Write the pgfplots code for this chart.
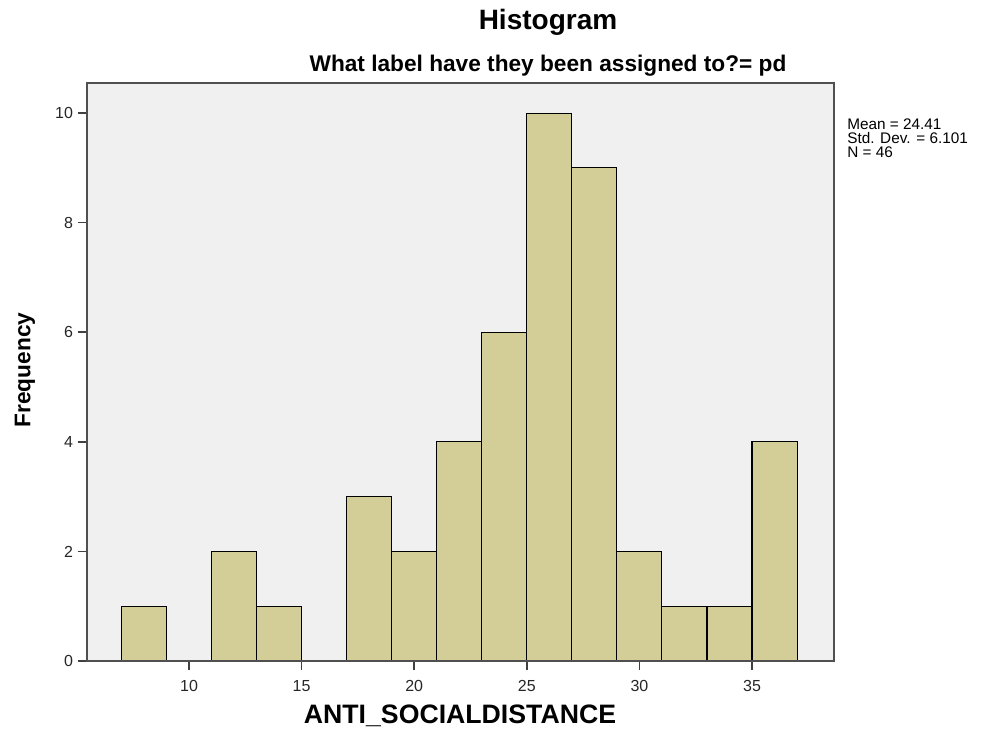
\documentclass[border=0pt]{standalone}
\usepackage{pgfplots}
\pgfplotsset{compat=1.18}
\usepackage{fontspec}
\setmainfont{Liberation Sans}

\definecolor{barfill}{RGB}{211,206,151}
\definecolor{plotbg}{RGB}{240,240,240}
\definecolor{axisgray}{RGB}{80,80,80}

\begin{document}
\begin{tikzpicture}
% canvas of the reference, 0.75pt per pixel
\path[use as bounding box] (-65.25pt,-52.5pt) rectangle (684.75pt,495.75pt);

\begin{axis}[
    at={(0,0)}, anchor=south west,
    scale only axis,
    width=560.25pt, height=433.5pt,
    xmin=5.47, xmax=38.64,
    ymin=0, ymax=10.55,
    xtick={10,15,20,25,30,35},
    ytick={0,2,4,6,8,10},
    tick pos=left,
    tick align=outside,
    major tick length=7pt,
    tick style={line width=1.2pt, color=black!75},
    axis background/.style={fill=plotbg},
    axis line style={line width=0.8pt, color=axisgray},
    ticklabel style={font=\fontsize{12}{14}\selectfont, color=black!85},
    xticklabel style={yshift=-4pt},
    /pgf/number format/assume math mode=true,
]
\addplot[ybar interval, fill=barfill, draw=black, line width=0.8pt]
coordinates {
(7,1)(9,0)(11,2)(13,1)(15,0)(17,3)(19,2)(21,4)(23,6)(25,10)(27,9)(29,2)(31,1)(33,1)(35,4)(37,0)
};
% heavier left and bottom axis lines as in SPSS
\draw[line width=2pt, color=axisgray] (rel axis cs:0,1) -- (rel axis cs:0,0) -- (rel axis cs:1,0);
\end{axis}

\node[font=\fontsize{21}{24}\selectfont\bfseries] at (345.75pt,479.25pt) {Histogram};
\node[font=\fontsize{17}{20}\selectfont\bfseries] at (345.75pt,446.25pt) {What label have they been assigned to?= pd};
\node[font=\fontsize{11.5}{10.5}\selectfont, anchor=north west, align=left, inner sep=0pt]
  at (570pt,407pt) {Mean = 24.41\\Std. Dev. = 6.101\\N = 46};
\node[font=\fontsize{17}{20}\selectfont\bfseries, rotate=90] at (-46.5pt,218.25pt) {Frequency};
\node[font=\fontsize{20}{24}\selectfont\bfseries] at (279.75pt,-41.25pt) {ANTI\_SOCIALDISTANCE};
\end{tikzpicture}
\end{document}
